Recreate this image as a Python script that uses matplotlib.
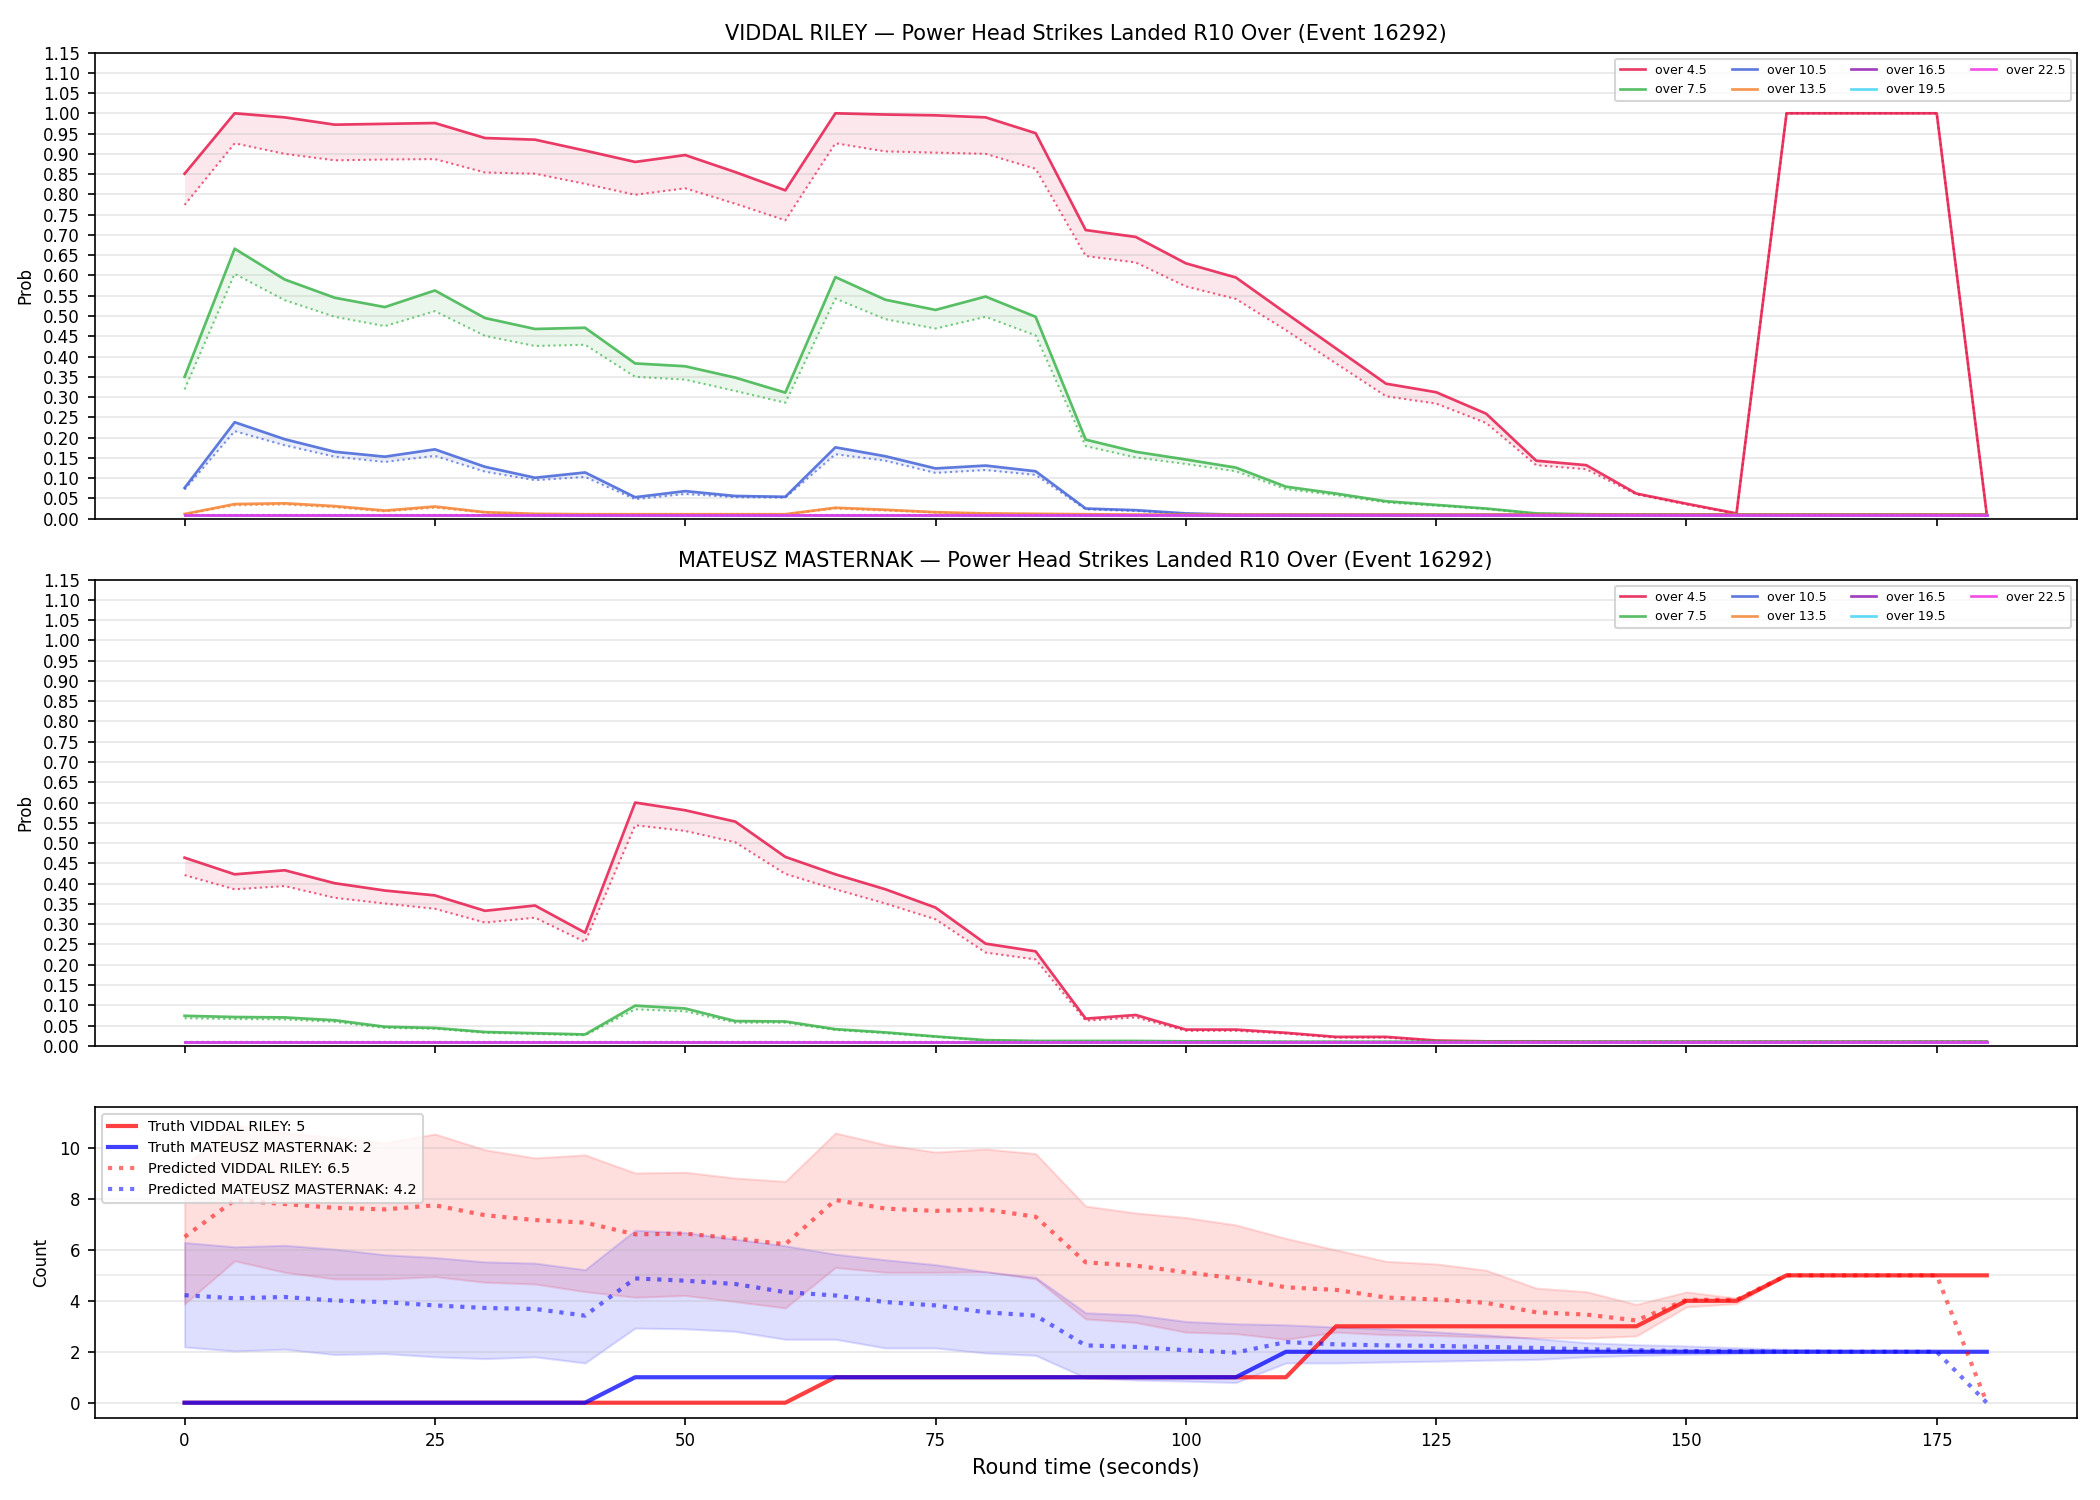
import numpy as np
import matplotlib
matplotlib.use("Agg")
import matplotlib.pyplot as plt

# round time (seconds)
t = np.arange(0, 185, 5)

lines = ["over 4.5", "over 7.5", "over 10.5", "over 13.5", "over 16.5", "over 19.5", "over 22.5"]
colors = ["#e6194b", "#3cb44b", "#4363d8", "#f58231", "#911eb4", "#42d4f4", "#f032e6"]

FLOOR = 0.01

# --- VIDDAL RILEY: market (solid) vs model (dotted) ---
vr_45 = [0.851, 1.00, 0.99, 0.972, 0.974, 0.976, 0.939, 0.935, 0.908, 0.880, 0.897, 0.855, 0.810,
         1.00, 0.997, 0.995, 0.990, 0.951, 0.712, 0.695, 0.630, 0.595, 0.507, 0.420, 0.333, 0.312,
         0.259, 0.143, 0.132, 0.062, 0.037, 0.013, 1.0, 1.0, 1.0, 1.0, 0.01]
vr_45_p = [0.774, 0.926, 0.900, 0.884, 0.886, 0.887, 0.854, 0.851, 0.826, 0.799, 0.815, 0.777, 0.736,
           0.926, 0.906, 0.903, 0.900, 0.863, 0.648, 0.632, 0.573, 0.542, 0.465, 0.383, 0.302, 0.284,
           0.236, 0.132, 0.122, 0.060, 0.035, 0.012, 1.0, 1.0, 1.0, 1.0, 0.01]
vr_75 = [0.350, 0.666, 0.590, 0.545, 0.522, 0.563, 0.495, 0.468, 0.471, 0.383, 0.376, 0.348, 0.311,
         0.596, 0.540, 0.515, 0.548, 0.498, 0.195, 0.165, 0.146, 0.126, 0.079, 0.062, 0.043, 0.034,
         0.025, 0.013, 0.011, 0.01, 0.01, 0.01, 0.01, 0.01, 0.01, 0.01, 0.01]
vr_75_p = [0.319, 0.604, 0.539, 0.498, 0.475, 0.512, 0.451, 0.426, 0.429, 0.350, 0.343, 0.315, 0.286,
           0.543, 0.492, 0.469, 0.498, 0.452, 0.179, 0.151, 0.135, 0.117, 0.073, 0.058, 0.040, 0.032,
           0.024, 0.012, 0.011, 0.01, 0.01, 0.01, 0.01, 0.01, 0.01, 0.01, 0.01]
vr_105 = [0.076, 0.238, 0.196, 0.165, 0.153, 0.171, 0.128, 0.101, 0.114, 0.053, 0.068, 0.056, 0.054,
          0.176, 0.154, 0.124, 0.131, 0.117, 0.025, 0.021, 0.013, 0.01, 0.01, 0.01, 0.01, 0.01,
          0.01, 0.01, 0.01, 0.01, 0.01, 0.01, 0.01, 0.01, 0.01, 0.01, 0.01]
vr_105_p = [0.072, 0.216, 0.181, 0.153, 0.140, 0.155, 0.116, 0.095, 0.103, 0.048, 0.061, 0.053, 0.052,
            0.159, 0.143, 0.113, 0.120, 0.108, 0.023, 0.019, 0.012, 0.01, 0.01, 0.01, 0.01, 0.01,
            0.01, 0.01, 0.01, 0.01, 0.01, 0.01, 0.01, 0.01, 0.01, 0.01, 0.01]
vr_135 = [0.0115, 0.036, 0.038, 0.031, 0.020, 0.030, 0.016, 0.012, 0.011, 0.011, 0.011, 0.011, 0.011,
          0.027, 0.022, 0.016, 0.013, 0.012, 0.011, 0.01, 0.01, 0.01, 0.01, 0.01, 0.01, 0.01,
          0.01, 0.01, 0.01, 0.01, 0.01, 0.01, 0.01, 0.01, 0.01, 0.01, 0.01]
vr_135_p = [0.011, 0.033, 0.035, 0.028, 0.018, 0.027, 0.015, 0.011, 0.011, 0.011, 0.011, 0.011, 0.011,
            0.025, 0.020, 0.015, 0.012, 0.011, 0.01, 0.01, 0.01, 0.01, 0.01, 0.01, 0.01, 0.01,
            0.01, 0.01, 0.01, 0.01, 0.01, 0.01, 0.01, 0.01, 0.01, 0.01, 0.01]

# --- MATEUSZ MASTERNAK ---
mm_45 = [0.464, 0.423, 0.433, 0.401, 0.383, 0.371, 0.333, 0.346, 0.279, 0.600, 0.581, 0.553, 0.466,
         0.423, 0.386, 0.341, 0.252, 0.233, 0.067, 0.076, 0.040, 0.040, 0.032, 0.022, 0.022, 0.013,
         0.011, 0.011, 0.01, 0.01, 0.01, 0.01, 0.01, 0.01, 0.01, 0.01, 0.01]
mm_45_p = [0.421, 0.386, 0.394, 0.365, 0.351, 0.338, 0.304, 0.316, 0.256, 0.544, 0.530, 0.502, 0.424,
           0.386, 0.351, 0.312, 0.230, 0.213, 0.062, 0.070, 0.037, 0.037, 0.030, 0.020, 0.020, 0.012,
           0.011, 0.01, 0.01, 0.01, 0.01, 0.01, 0.01, 0.01, 0.01, 0.01, 0.01]
mm_75 = [0.074, 0.071, 0.070, 0.063, 0.047, 0.044, 0.034, 0.031, 0.028, 0.099, 0.092, 0.061, 0.060,
         0.041, 0.033, 0.023, 0.014, 0.012, 0.012, 0.012, 0.011, 0.011, 0.01, 0.01, 0.01, 0.01,
         0.01, 0.01, 0.01, 0.01, 0.01, 0.01, 0.01, 0.01, 0.01, 0.01, 0.01]
mm_75_p = [0.068, 0.066, 0.065, 0.059, 0.044, 0.042, 0.032, 0.029, 0.026, 0.090, 0.085, 0.057, 0.057,
           0.039, 0.031, 0.022, 0.013, 0.012, 0.011, 0.011, 0.01, 0.01, 0.01, 0.01, 0.01, 0.01,
           0.01, 0.01, 0.01, 0.01, 0.01, 0.01, 0.01, 0.01, 0.01, 0.01, 0.01]

# --- counts ---
truth_vr = [0] * 13 + [1] * 10 + [3] * 7 + [4] * 2 + [5] * 5
truth_mm = [0] * 9 + [1] * 13 + [2] * 15
pred_vr = [6.51, 7.95, 7.80, 7.65, 7.59, 7.75, 7.36, 7.17, 7.07, 6.61, 6.64, 6.45, 6.22,
           7.96, 7.62, 7.53, 7.59, 7.30, 5.51, 5.38, 5.12, 4.88, 4.53, 4.43, 4.13, 4.05,
           3.92, 3.55, 3.46, 3.23, 4.04, 4.04, 5.0, 5.0, 5.0, 5.0, 0.0]
pred_mm = [4.22, 4.10, 4.15, 4.01, 3.95, 3.82, 3.72, 3.68, 3.42, 4.88, 4.79, 4.66, 4.34,
           4.21, 3.95, 3.82, 3.55, 3.42, 2.25, 2.19, 2.06, 1.97, 2.38, 2.29, 2.25, 2.23,
           2.19, 2.15, 2.10, 2.06, 2.03, 2.02, 2.0, 2.0, 2.0, 2.0, 0.0]
# bands stop at 175 s
vr_hi = [9.3, 10.9, 10.6, 10.4, 10.2, 10.55, 9.93, 9.61, 9.73, 9.02, 9.05, 8.82, 8.69,
         10.59, 10.13, 9.84, 9.96, 9.78, 7.72, 7.45, 7.27, 6.98, 6.45, 6.0, 5.55, 5.45,
         5.2, 4.5, 4.36, 3.86, 4.35, 4.11, 5.0, 5.0, 5.0, 5.0]
vr_lo = [3.88, 5.57, 5.12, 4.86, 4.86, 4.95, 4.73, 4.66, 4.36, 4.14, 4.21, 3.97, 3.72,
         5.31, 5.12, 5.12, 5.14, 4.86, 3.29, 3.15, 2.77, 2.71, 2.49, 2.77, 2.67, 2.64,
         2.58, 2.55, 2.54, 2.62, 3.76, 3.89, 5.0, 5.0, 5.0, 5.0]
mm_hi = [6.29, 6.12, 6.18, 6.03, 5.81, 5.70, 5.53, 5.48, 5.22, 6.77, 6.68, 6.42, 6.16,
         5.83, 5.61, 5.42, 5.14, 4.92, 3.53, 3.45, 3.19, 3.10, 3.06, 2.97, 2.90, 2.78,
         2.66, 2.52, 2.36, 2.28, 2.23, 2.16, 2.10, 2.06, 2.03, 2.01]
mm_lo = [2.19, 2.03, 2.10, 1.89, 1.93, 1.80, 1.73, 1.80, 1.56, 2.93, 2.90, 2.80, 2.49,
         2.49, 2.15, 2.15, 1.95, 1.86, 0.98, 0.89, 0.85, 0.79, 1.56, 1.56, 1.60, 1.63,
         1.67, 1.70, 1.80, 1.86, 1.90, 1.93, 1.97, 2.0, 2.0, 2.0]

event = 16292
fighters = ["VIDDAL RILEY", "MATEUSZ MASTERNAK"]


def prob_panel(ax, name, market, model):
    for i, lab in enumerate(lines):
        m = np.array(market.get(lab, [FLOOR] * len(t)))
        p = np.array(model.get(lab, [FLOOR] * len(t)))
        ax.plot(t, m, color=colors[i], lw=1.3, alpha=0.85, label=lab)
        ax.plot(t, p, color=colors[i], lw=1.0, ls=":", alpha=0.7)
        ax.fill_between(t, m, p, color=colors[i], alpha=0.1, lw=0)
    ax.set_ylim(0, 1.15)
    ax.set_yticks(np.arange(0, 1.151, 0.05))
    ax.set_ylabel("Prob", fontsize=8)
    ax.tick_params(labelsize=8)
    ax.grid(axis="y", alpha=0.3)
    ax.set_title(f"{name} \u2014 Power Head Strikes Landed R10 Over (Event {event})", fontsize=10)
    ax.legend(loc="upper right", ncol=4, fontsize=6.0)


fig, axes = plt.subplots(3, 1, figsize=(14, 10), sharex=True,
                         gridspec_kw={"height_ratios": [3, 3, 2]})
fig.subplots_adjust(left=0.045, right=0.989, top=0.965, bottom=0.055, hspace=0.147)

prob_panel(axes[0], fighters[0],
           {"over 4.5": vr_45, "over 7.5": vr_75, "over 10.5": vr_105, "over 13.5": vr_135},
           {"over 4.5": vr_45_p, "over 7.5": vr_75_p, "over 10.5": vr_105_p, "over 13.5": vr_135_p})
prob_panel(axes[1], fighters[1],
           {"over 4.5": mm_45, "over 7.5": mm_75},
           {"over 4.5": mm_45_p, "over 7.5": mm_75_p})

# --- bottom: counts ---
ax = axes[2]
tb = t[:-1]
ax.axhline(5, color="gray", alpha=0.15, lw=0.8)
ax.fill_between(tb, vr_lo, vr_hi, color="red", alpha=0.13)
ax.fill_between(tb, mm_lo, mm_hi, color="blue", alpha=0.13)
ax.plot(t, truth_vr, color="red", lw=2, alpha=0.75, label=f"Truth {fighters[0]}: {truth_vr[-1]}")
ax.plot(t, truth_mm, color="blue", lw=2, alpha=0.75, label=f"Truth {fighters[1]}: {truth_mm[-1]}")
ax.plot(t, pred_vr, color="red", lw=2, ls=":", alpha=0.55, label=f"Predicted {fighters[0]}: {pred_vr[0]:.1f}")
ax.plot(t, pred_mm, color="blue", lw=2, ls=":", alpha=0.55, label=f"Predicted {fighters[1]}: {pred_mm[0]:.1f}")
ax.set_ylim(-0.58, 11.62)
ax.set_yticks([0, 2, 4, 6, 8, 10])
ax.set_ylabel("Count", fontsize=8)
ax.set_xlabel("Round time (seconds)", fontsize=10)
ax.tick_params(labelsize=8)
ax.grid(axis="y", alpha=0.3)
ax.legend(loc="upper left", fontsize=6.95)
ax.set_xticks([0, 25, 50, 75, 100, 125, 150, 175])

plt.savefig("out.png", dpi=150)
